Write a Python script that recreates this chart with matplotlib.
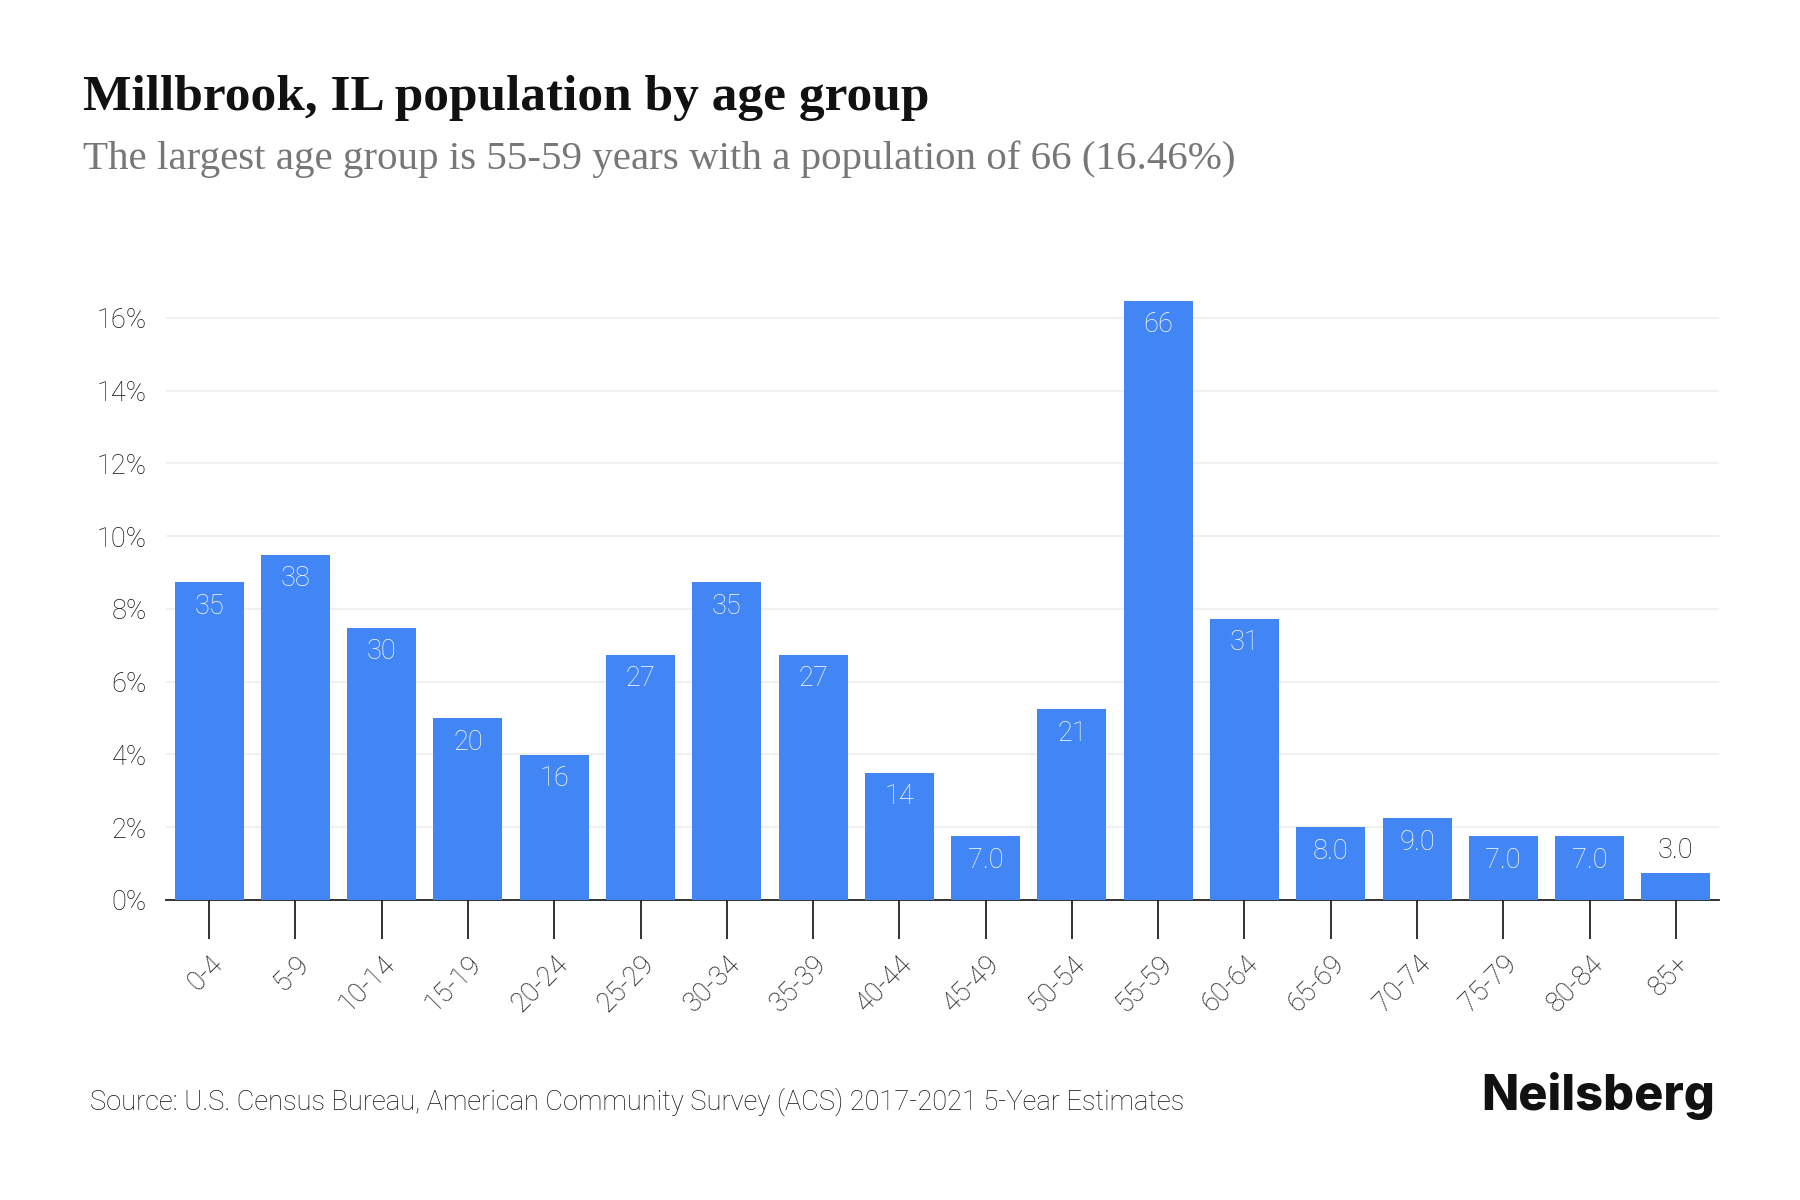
import matplotlib
matplotlib.use("Agg")
import matplotlib.pyplot as plt
from matplotlib.ticker import FuncFormatter

age_groups = ["0-4", "5-9", "10-14", "15-19", "20-24", "25-29", "30-34", "35-39",
              "40-44", "45-49", "50-54", "55-59", "60-64", "65-69", "70-74", "75-79",
              "80-84", "85+"]
population = [35, 38, 30, 20, 16, 27, 35, 27, 14, 7, 21, 66, 31, 8, 9, 7, 7, 3]
y_ticks = [0, 2, 4, 6, 8, 10, 12, 14, 16]

total = sum(population)
percent = [p / total * 100 for p in population]

title = "Millbrook, IL population by age group"
subtitle = "The largest age group is 55-59 years with a population of 66 (16.46%)"
source = "Source: U.S. Census Bureau, American Community Survey (ACS) 2017-2021 5-Year Estimates"

BLUE = "#4285F4"
TXT = "#111111"
FS = 19.6
fig = plt.figure(figsize=(18, 12), dpi=100)
ax = fig.add_axes([0.0922, 0.25, 0.8628, 0.5004])

x = list(range(len(age_groups)))
bars = ax.bar(x, percent, width=0.8, color=BLUE, zorder=3)

ax.set_xlim(-0.5, len(age_groups) - 0.5)
ax.set_ylim(0, 16.5)
ax.set_yticks(y_ticks)
ax.yaxis.set_major_formatter(FuncFormatter(lambda v, _: f"{v:.0f}%"))
ax.grid(axis="y", color="#eeeeee", linewidth=1.2, zorder=0)
for s in ["top", "right", "left"]:
    ax.spines[s].set_visible(False)
ax.spines["bottom"].set_color("#222222")
ax.spines["bottom"].set_linewidth(1.3)
ax.tick_params(axis="y", length=0, pad=14, labelsize=FS, labelcolor=TXT)
ax.tick_params(axis="x", length=28, width=1.3, color="#222222", pad=8,
               labelsize=FS, labelcolor=TXT)
ax.set_xticks(x)
ax.set_xticklabels(age_groups, rotation=45, ha="right", rotation_mode="anchor")
for lbl in ax.get_xticklabels() + ax.get_yticklabels():
    lbl.set_fontfamily("Roboto")
    lbl.set_fontweight("light")

for xi, pct, pop in zip(x, percent, population):
    txt = f"{pop}" if pop >= 10 else f"{pop:.1f}"
    if pct > 1.2:
        ax.text(xi, pct - 0.28, txt, ha="center", va="top", color="white",
                fontsize=FS, fontfamily="Roboto", fontweight="light", zorder=4)
    else:
        ax.text(xi, pct + 0.25, txt, ha="center", va="bottom", color=TXT,
                fontsize=FS, fontfamily="Roboto", fontweight="light", zorder=4)

fig.text(0.046, 0.908, title, fontsize=37, fontweight="bold",
         fontfamily="Liberation Serif", color="#111111", va="baseline")
fig.text(0.046, 0.859, subtitle, fontsize=29.5, fontfamily="Liberation Serif",
         color="#777777", va="baseline")
fig.text(0.05, 0.075, source, fontsize=FS, fontfamily="Roboto", fontweight="light",
         color=TXT, va="baseline")
fig.text(0.953, 0.075, "Neilsberg", fontsize=35, fontweight="heavy",
         fontfamily="Inter", color="#111111", ha="right", va="baseline")

fig.savefig("out.png", dpi=100, facecolor="white")
